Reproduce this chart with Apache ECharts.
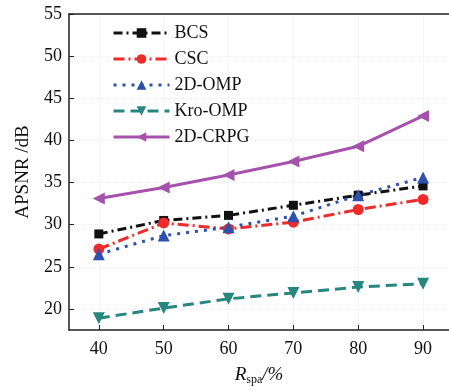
<!DOCTYPE html>
<html><head><meta charset="utf-8">
<script src="https://cdn.jsdelivr.net/npm/echarts@6/dist/echarts.min.js"></script>
<style>html,body{margin:0;padding:0;background:#fff}#c{width:449px;height:391px}</style>
</head><body><div id="c"></div>
<script>
const xValues = [40, 50, 60, 70, 80, 90];
const seriesNames = ['BCS', 'CSC', '2D-OMP', 'Kro-OMP', '2D-CRPG'];
const bcs = [28.9, 30.5, 31.1, 32.3, 33.5, 34.6];
const csc = [27.1, 30.2, 29.5, 30.3, 31.8, 33.0];
const omp2d = [26.5, 28.7, 29.7, 31.0, 33.5, 35.6];
const kroOmp = [18.9, 20.1, 21.2, 21.9, 22.6, 23.0];
const crpg2d = [33.1, 34.4, 35.9, 37.5, 39.3, 42.9];
const yTicks = [20, 25, 30, 35, 40, 45, 50, 55];
const xTicks = [40, 50, 60, 70, 80, 90];

const font = 'Liberation Serif, DejaVu Serif, serif';
const pairs = arr => xValues.map((x, i) => [x, arr[i]]);
const chart = echarts.init(document.getElementById('c'));
const styles = [
  {data: bcs, color: '#111111', type: [9, 4, 2, 4], symbol: 'rect', size: 9},
  {data: csc, color: '#ee2b2b', type: [11, 4, 2, 4], symbol: 'circle', size: 11},
  {data: omp2d, color: '#2d52ad', type: [3, 6], symbol: 'triangle', size: 12},
  {data: kroOmp, color: '#27877f', type: [11, 6], symbol: 'path://M0,0 L10,0 L5,10 Z', size: 12},
  {data: crpg2d, color: '#a552ad', type: 'solid', symbol: 'path://M0,5 L10,0 L10,10 Z', size: 12}
];
chart.setOption({
  animation: false,
  grid: {left: 69, right: 0, top: 14, bottom: 57},
  legend: {
    orient: 'vertical', left: 107, top: 19, itemWidth: 56, itemHeight: 12, itemGap: 8,
    lineStyle: {width: 3},
    textStyle: {fontFamily: font, fontSize: 18, color: '#111'},
    data: seriesNames
  },
  xAxis: [{
    type: 'value', min: 35.4, max: 94,
    axisLine: {lineStyle: {color: '#222', width: 1.5}},
    axisTick: {inside: true, length: 5, customValues: xTicks, lineStyle: {color: '#222'}},
    axisLabel: {customValues: xTicks, fontFamily: font, fontSize: 18, color: '#111', margin: 10},
    splitLine: {show: true, lineStyle: {color: '#eee', type: 'dotted'}},
    name: '{i|R}{s|spa}{n|/%}', nameLocation: 'middle', nameGap: 34,
    nameTextStyle: {rich: {
      i: {fontFamily: font, fontSize: 19, fontStyle: 'italic', color: '#111'},
      s: {fontFamily: font, fontSize: 12, color: '#111', padding: [10, 0, 0, 0]},
      n: {fontFamily: font, fontSize: 19, fontStyle: 'italic', color: '#111'}
    }}
  }, {
    type: 'value', position: 'top', min: 35.4, max: 94,
    axisLine: {show: true, lineStyle: {color: '#222', width: 1.5}},
    axisTick: {show: false}, axisLabel: {show: false}, splitLine: {show: false}
  }],
  yAxis: {
    type: 'value', min: 17.5, max: 55,
    axisLine: {show: true, lineStyle: {color: '#222', width: 1.5}},
    axisTick: {show: true, inside: true, length: 5, customValues: yTicks, lineStyle: {color: '#222'}},
    axisLabel: {customValues: yTicks, fontFamily: font, fontSize: 18, color: '#111', margin: 7},
    splitLine: {show: true, lineStyle: {color: '#eee', type: 'dotted'}},
    name: 'APSNR /dB', nameLocation: 'middle', nameGap: 36, nameRotate: 90,
    nameTextStyle: {fontFamily: font, fontSize: 19, color: '#111'}
  },
  series: styles.map((s, i) => ({
    name: seriesNames[i], type: 'line', data: pairs(s.data),
    symbol: s.symbol, symbolSize: s.size, color: s.color,
    itemStyle: {color: s.color},
    lineStyle: {color: s.color, width: 3, type: s.type}
  }))
});
</script></body></html>
